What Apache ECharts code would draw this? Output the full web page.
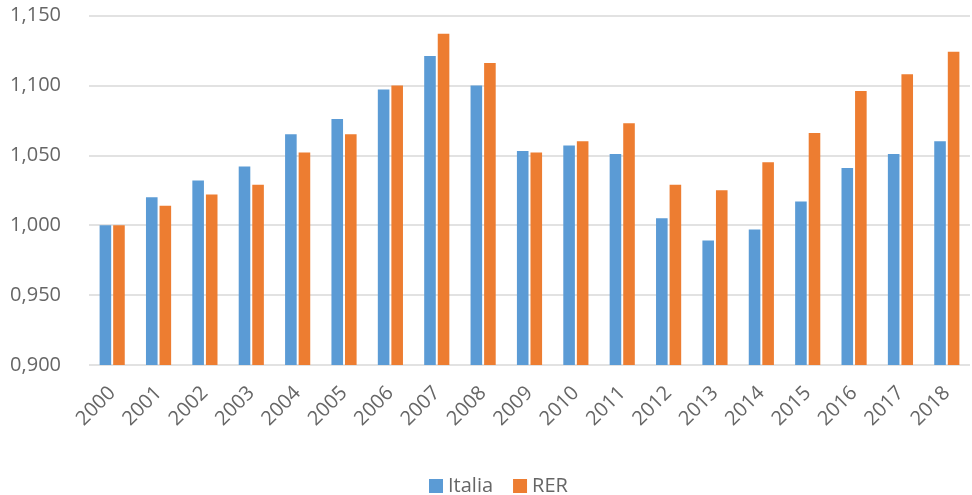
<!DOCTYPE html>
<html>
<head>
<meta charset="utf-8">
<script src="https://cdn.jsdelivr.net/npm/echarts@6/dist/echarts.min.js"></script>
<style>
  html, body { margin: 0; padding: 0; background: #fff; }
  #chart { width: 972px; height: 495px; }
</style>
</head>
<body>
<div id="chart"></div>
<script>
// Index values (2000 = 1,000) for Italy and Emilia-Romagna
const years = ['2000','2001','2002','2003','2004','2005','2006','2007','2008','2009',
               '2010','2011','2012','2013','2014','2015','2016','2017','2018'];
const italia = [1.000, 1.020, 1.032, 1.042, 1.065, 1.076, 1.097, 1.121, 1.100, 1.053,
                1.057, 1.051, 1.005, 0.989, 0.997, 1.017, 1.041, 1.051, 1.060];
const rer    = [1.000, 1.014, 1.022, 1.029, 1.052, 1.065, 1.100, 1.137, 1.116, 1.052,
                1.060, 1.073, 1.029, 1.025, 1.045, 1.066, 1.096, 1.108, 1.124];
const seriesNames = ['Italia', 'RER'];

const fontFamily = '"Open Sans", "Noto Sans", sans-serif';
const textColor = '#666666';

const chart = echarts.init(document.getElementById('chart'), null, { renderer: 'canvas' });
chart.setOption({
  animation: false,
  grid: { left: 89, right: 2, top: 15.5, bottom: 130, containLabel: false },
  legend: {
    data: seriesNames,
    top: 471,
    left: 424,
    itemWidth: 14,
    itemHeight: 14,
    itemGap: 20,
    icon: 'rect',
    textStyle: { color: textColor, fontSize: 20, fontFamily: fontFamily, padding: [0, 0, 0, 0] }
  },
  xAxis: {
    type: 'category',
    data: years,
    axisLine: { show: false },
    axisTick: { show: false },
    axisLabel: {
      rotate: 45,
      color: textColor,
      fontSize: 20,
      fontFamily: fontFamily,
      margin: 25
    }
  },
  yAxis: {
    type: 'value',
    min: 0.9,
    max: 1.15,
    interval: 0.05,
    axisLine: { show: false },
    axisTick: { show: false },
    splitLine: { lineStyle: { color: '#D9D9D9', width: 1.5 } },
    axisLabel: {
      color: textColor,
      fontSize: 20,
      fontFamily: fontFamily,
      margin: 28,
      formatter: v => v.toFixed(3).replace('.', ',')
    }
  },
  series: [
    {
      name: seriesNames[0],
      type: 'bar',
      data: italia,
      barWidth: '25%',
      barGap: '17%',
      itemStyle: { color: '#5B9BD5' }
    },
    {
      name: seriesNames[1],
      type: 'bar',
      data: rer,
      barWidth: '25%',
      itemStyle: { color: '#ED7D31' }
    }
  ]
});
</script>
</body>
</html>
